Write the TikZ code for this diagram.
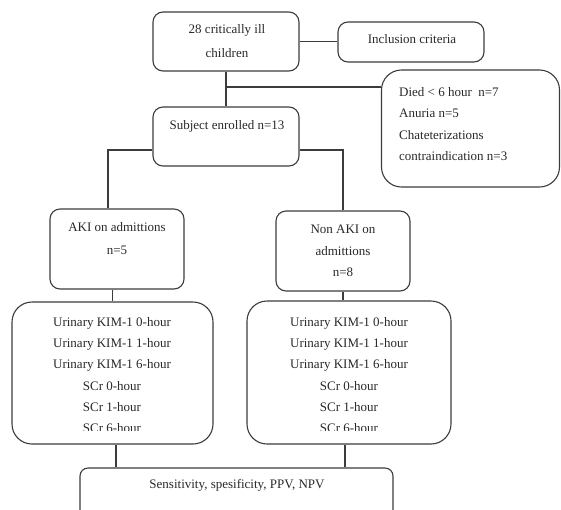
\documentclass[tikz,border=0pt]{standalone}
\usepackage{fontspec}
\setmainfont{Liberation Serif}
\definecolor{linegray}{RGB}{60,60,60}
\definecolor{textgray}{RGB}{40,40,40}
\tikzset{
    flow/.style={draw=linegray, line width=1.1pt},
    box/.style={flow, rounded corners=10pt, inner sep=0pt},
    bigbox/.style={box, rounded corners=20pt},
    txt/.style={inner sep=0pt, align=center, text=textgray, font=\fontsize{13}{21.3}\selectfont},
}

\begin{document}
\begin{tikzpicture}[x=1pt, y=-1pt]
        \useasboundingbox (0, 0) rectangle (561, 509);
        \clip (0, 0) rectangle (561, 509);
        %boxes
        \node[box, minimum width=146, minimum height=59] (top) at (226, 41.5) {};
        \node[box, minimum width=146, minimum height=40] (incl) at (411, 42) {};
        \node[bigbox, minimum width=178, minimum height=117] (excl) at (470.5, 128.5) {};
        \node[box, minimum width=146, minimum height=59] (enrolled) at (226, 136.5) {};
        \node[box, minimum width=134, minimum height=80] (aki) at (117, 249) {};
        \node[box, minimum width=134, minimum height=80] (nonaki) at (343, 251) {};
        \node[bigbox, minimum width=201, minimum height=142] (listL) at (112.5, 373) {};
        \node[bigbox, minimum width=204, minimum height=143] (listR) at (349, 372.5) {};
        \node[box, rounded corners=8pt, minimum width=313, minimum height=52] (sens) at (236.5, 494) {};
        %connectors
        \coordinate (split) at (226, 87);
        \draw[flow] (top.east) -- (top.east -| incl.west);
        \draw[flow] (top.south) -- (enrolled.north);
        \draw[flow] (split) -- (split -| excl.west);
        \draw[flow] ([yshift=-13.5pt]enrolled.west) -| ([xshift=-9pt]aki.north);
        \draw[flow] ([yshift=-13.5pt]enrolled.east) -| (nonaki.north);
        \draw[flow] (listL.north |- aki.south) -- (listL.north);
        \draw[flow] (nonaki.south) -- (nonaki.south |- listR.north);
        \draw[flow] ([xshift=3.5pt]listL.south) -- ([xshift=3.5pt]listL.south |- sens.north);
        \draw[flow] ([xshift=-4pt]listR.south) -- ([xshift=-4pt]listR.south |- sens.north);
        %label boxes
        \node[txt, font=\fontsize{13}{24}\selectfont] (toptxt) at (227, 41) {28 critically ill\\children};
        \node[txt] (incltxt) at (412, 39) {Inclusion criteria};
        \node[txt, align=left, anchor=west] (excltxt) at (399, 124) {Died < 6 hour~~n=7\\Anuria n=5\\Chateterizations\\contraindication n=3};
        \node[txt] (enrtxt) at (227, 126) {Subject enrolled n=13};
        \node[txt, font=\fontsize{13}{23}\selectfont] (akitxt) at (117, 238.5) {AKI on admittions\\n=5};
        \node[txt, font=\fontsize{13}{21.5}\selectfont] (nonakitxt) at (343, 251) {Non AKI on\\admittions\\n=8};
        \begin{scope}
            \clip (0, 0) rectangle (561, 430);
            \node[txt] (listLtxt) at (112, 375) {Urinary KIM-1 0-hour\\Urinary KIM-1 1-hour\\Urinary KIM-1 6-hour\\SCr 0-hour\\SCr 1-hour\\SCr 6-hour};
            \node[txt] (listRtxt) at (349, 375) {Urinary KIM-1 0-hour\\Urinary KIM-1 1-hour\\Urinary KIM-1 6-hour\\SCr 0-hour\\SCr 1-hour\\SCr 6-hour};
        \end{scope}
        \node[txt] (senstxt) at (237, 485) {Sensitivity, spesificity, PPV, NPV};
    \end{tikzpicture}
\end{document}
